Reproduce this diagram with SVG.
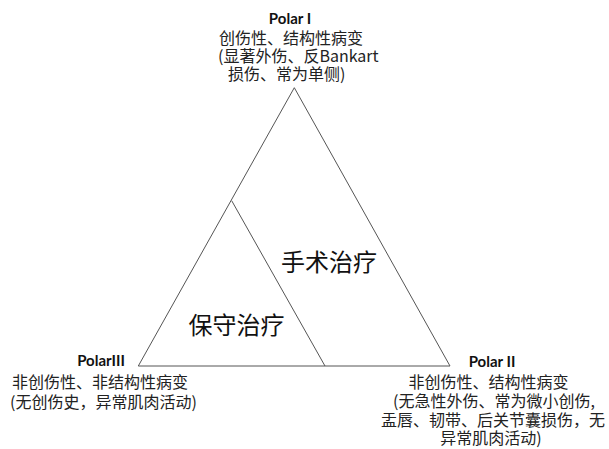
<svg xmlns="http://www.w3.org/2000/svg" width="609" height="449" viewBox="0 0 609 449">
<style>
.t{font-family:"Noto Sans CJK SC","Noto Sans",sans-serif;font-size:16px;fill:#222}
.b{font-family:"Lato","Noto Sans",sans-serif;font-size:15px;font-weight:bold;fill:#111}
.big{font-family:"Noto Sans CJK SC",sans-serif;font-size:24px;fill:#111}
.ln{stroke:#555;stroke-width:1;fill:none}
</style>
<rect width="609" height="449" fill="#fff"/>
<g id="connectors">
<polygon class="ln" points="294.3,87.7 138.3,366 450,366"/>
<line class="ln" x1="231.7" y1="200.7" x2="325" y2="366"/>
</g>
<g id="polar1">
<text class="b" x="290" y="24" text-anchor="middle">Polar I</text>
<text class="t" x="219" y="44">创伤性、结构性病变</text>
<text class="t" x="218" y="62">(显著外伤、反Bankart</text>
<text class="t" x="228" y="80">损伤、常为单侧)</text>
</g>
<g id="polar3">
<text class="b" x="101" y="366" text-anchor="middle">PolarIII</text>
<text class="t" x="12" y="388">非创伤性、非结构性病变</text>
<text class="t" x="10" y="408">(无创伤史，异常肌肉活动)</text>
</g>
<g id="polar2">
<text class="b" x="492" y="367" text-anchor="middle">Polar II</text>
<text class="t" x="488.5" y="388" text-anchor="middle">非创伤性、结构性病变</text>
<text class="t" x="494" y="407" text-anchor="middle">(无急性外伤、常为微小创伤,</text>
<text class="t" x="493" y="426" text-anchor="middle">盂唇、韧带、后关节囊损伤，无</text>
<text class="t" x="491" y="444" text-anchor="middle">异常肌肉活动)</text>
</g>
<g id="surgery">
<text class="big" x="329" y="271" text-anchor="middle">手术治疗</text>
</g>
<g id="conservative">
<text class="big" x="236.5" y="334" text-anchor="middle">保守治疗</text>
</g>
</svg>
